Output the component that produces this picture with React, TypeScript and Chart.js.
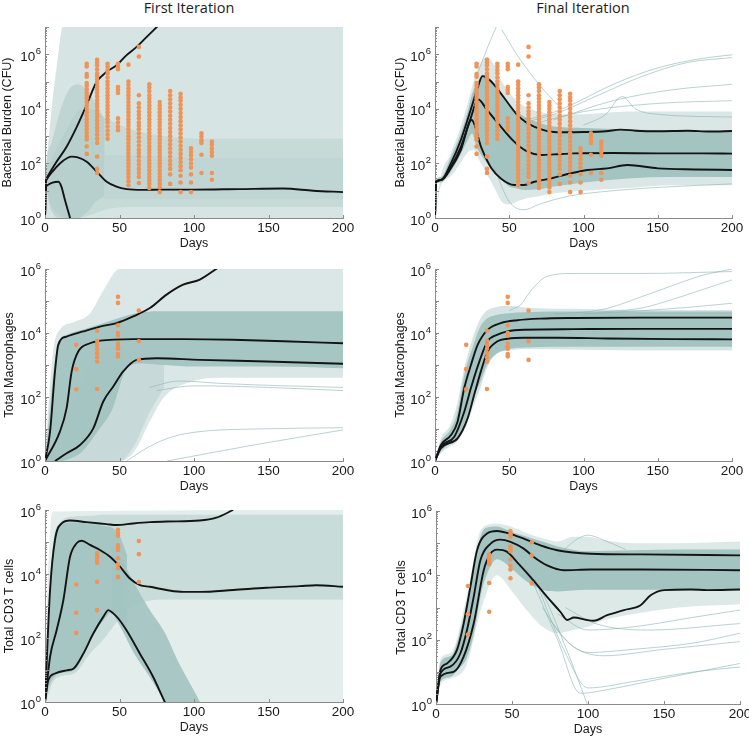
import React, { useEffect, useRef } from "react";
import { Chart, registerables } from "chart.js";
Chart.register(...registerables);
const FONT = "'Liberation Sans', Arial, Helvetica, sans-serif";
Chart.defaults.font.family = FONT;

const cfuDays = [28, 35, 42, 49, 56, 63, 70, 77, 84, 91, 98, 105, 112];
const cfuLog10 = [
  [5.65, 5.55, 5.28, 5.18, 4.95, 4.85, 4.72, 4.6, 4.48, 4.38, 4.25, 4.12, 4.0, 3.88, 3.75, 3.62, 3.5, 3.38, 3.25, 3.12, 3.0, 2.88, 2.62, 2.35],
  [5.8, 5.7, 5.6, 5.45, 5.3, 5.2, 5.08, 4.95, 4.82, 4.7, 4.58, 4.45, 4.32, 4.2, 4.08, 3.95, 3.82, 3.7, 3.58, 3.45, 3.32, 3.2, 3.05, 2.9, 2.75, 2.25, 1.8, 1.65],
  [5.65, 5.55, 5.42, 5.3, 5.15, 5.0, 4.88, 4.75, 4.62, 4.5, 4.38, 4.25, 4.12, 4.0, 3.88, 3.75, 3.62, 3.5, 3.35, 3.2, 3.05, 2.9],
  [5.65, 5.55, 5.45, 4.8, 4.7, 4.58, 3.65, 3.5, 3.35, 3.22],
  [5.62, 5.0, 4.88, 4.75, 4.62, 4.5, 4.38, 4.25, 4.12, 4.0, 3.88, 3.75, 3.62, 3.5, 3.38, 3.25, 3.12, 3.0, 2.88, 2.75, 2.62, 2.5, 2.38, 2.25, 2.12, 2.0, 1.88, 1.75, 1.62, 1.5, 1.35, 1.2],
  [6.27, 5.92, 4.5, 4.2, 4.05, 3.9, 3.78, 3.65, 3.5, 3.38, 3.25, 3.1, 2.95, 2.8, 2.65, 2.5, 2.38, 2.25, 2.1, 1.95, 1.8, 1.65, 1.5, 1.28],
  [4.9, 4.78, 4.65, 4.5, 4.38, 4.25, 4.12, 4.0, 3.88, 3.75, 3.62, 3.5, 3.38, 3.25, 3.12, 3.0, 2.88, 2.75, 2.62, 2.5, 2.38, 2.25, 2.12, 2.0, 1.88, 1.75, 1.62, 1.5, 1.38, 1.25, 1.1],
  [4.25, 4.12, 4.0, 3.88, 3.75, 3.62, 3.5, 3.38, 3.25, 3.12, 3.0, 2.88, 2.75, 2.62, 2.5, 2.38, 2.25, 2.12, 2.0, 1.88, 1.75, 1.62, 1.5, 1.38, 1.25, 1.12, 0.95],
  [4.65, 4.5, 4.35, 4.2, 4.05, 3.9, 3.75, 3.6, 3.45, 3.3, 3.15, 3.0, 2.85, 2.7, 2.55, 2.4, 2.25, 2.1, 1.95, 1.8, 1.6, 1.25],
  [4.55, 4.42, 4.3, 4.15, 4.0, 3.85, 3.7, 3.55, 3.4, 3.25, 3.1, 2.95, 2.8, 2.65, 2.5, 2.35, 2.2, 2.05, 1.9, 1.75, 1.55, 1.3, 0.95],
  [2.55, 2.42, 2.3, 2.15, 2.0, 1.85, 1.6, 1.3, 0.95],
  [3.1, 2.98, 2.85, 2.75, 2.32, 1.65],
  [2.8, 2.68, 2.55, 2.42, 2.28, 1.65, 1.4],
];
const macDays = [21, 35, 49, 63];
const macLog10 = [
  [3.63, 2.87, 2.24],
  [4.07, 3.76, 3.63, 3.51, 3.37, 3.24, 3.11, 2.25],
  [5.13, 4.94, 4.24, 4.0, 3.92, 3.67, 3.58, 3.51, 3.34, 3.27],
  [4.7, 3.74, 3.16],
];
const cd3Days = [21, 35, 49, 63];
const cd3Log10 = [
  [3.67, 2.79, 2.16],
  [4.65, 4.57, 4.5, 4.42, 4.35, 3.76, 2.87],
  [5.38, 5.28, 5.2, 4.9, 4.83, 4.75, 4.49, 4.3, 4.18, 3.91],
  [5.03, 4.62, 3.75],
];

// ---------------- percentile curves (log10) ----------------
const bactFirstUpDays = [0, 0.6, 1, 7, 14.5, 21, 28, 34.7, 41.4, 48.1, 54.8, 61.5, 68.3, 76];
const bactFirstUpLog = [0, 1.35, 1.45, 2.0, 2.61, 3.3, 4.15, 4.99, 5.36, 5.6, 5.97, 6.27, 6.64, 7.05];
const bactFirstMidDays = [0, 0.6, 1, 5, 10, 15, 18, 22, 28, 34.7, 41.4, 48, 54.8, 65, 80, 100, 130, 160, 180, 200];
const bactFirstMidLog = [0, 1.3, 1.4, 1.7, 2.0, 2.2, 2.25, 2.22, 2.06, 1.7, 1.33, 1.15, 1.06, 1.03, 1.04, 1.04, 1.06, 1.08, 1.0, 0.95];
const bactFirstLowDays = [0, 0.6, 1.5, 5, 9, 11, 13.4, 15, 16.8, 18];
const bactFirstLowLog = [0, 1.1, 1.2, 1.3, 1.33, 1.15, 0.66, 0.35, 0, -0.3];

const bactFinalUpDays = [0, 0.7, 4, 10.7, 17.4, 24, 28.6, 32, 37, 44.3, 50, 55.5, 61, 66.7, 72, 78, 89, 100, 115, 125, 135, 150, 170, 185, 200];
const bactFinalUpLog = [0, 1.33, 1.39, 2.0, 2.86, 3.96, 4.75, 5.2, 5.05, 4.57, 4.15, 3.77, 3.52, 3.35, 3.24, 3.16, 3.14, 3.15, 3.18, 3.24, 3.2, 3.18, 3.2, 3.17, 3.19];
const bactFinalMidDays = [0, 0.7, 4, 10.7, 17.4, 24, 29, 35, 44.3, 53.3, 62.3, 71.3, 80, 93.7, 120, 150, 180, 200];
const bactFinalMidLog = [0, 1.33, 1.39, 1.88, 2.61, 3.65, 4.35, 3.96, 3.35, 2.8, 2.43, 2.31, 2.33, 2.37, 2.38, 2.37, 2.37, 2.36];
const bactFinalLowDays = [0, 0.7, 4, 10.7, 17.4, 24.6, 31.4, 38, 44.3, 53.3, 60, 67, 78, 91.5, 102.7, 116, 129.6, 150, 175, 200];
const bactFinalLowLog = [0, 1.33, 1.39, 1.82, 2.49, 3.59, 2.55, 1.82, 1.45, 1.21, 1.21, 1.33, 1.45, 1.64, 1.76, 1.82, 1.94, 1.82, 1.78, 1.76];

const macFirstUpDays = [0, 3.4, 6.7, 8.9, 14.5, 25.7, 36.9, 48, 59.2, 70.4, 81.6, 92.7, 103.9, 115.5];
const macFirstUpLog = [0, 0.92, 2.8, 3.63, 3.89, 4.05, 4.2, 4.31, 4.52, 4.78, 5.2, 5.51, 5.67, 6.02];
const macFirstMidDays = [0, 10, 14.5, 17.9, 22.3, 30.2, 36.9, 59, 92.7, 126, 160, 200];
const macFirstMidLog = [0, 0.92, 1.65, 2.8, 3.42, 3.68, 3.76, 3.81, 3.81, 3.79, 3.74, 3.68];
const macFirstLowDays = [6.7, 14.5, 23.5, 32.4, 39.1, 45.8, 52.5, 61.5, 74.9, 103.9, 148.6, 200];
const macFirstLowLog = [0, 0.24, 0.5, 1.02, 1.86, 2.33, 2.8, 3.16, 3.21, 3.16, 3.11, 3.04];

const macFinalUpDays = [0, 4, 10.8, 15.2, 19.7, 24.2, 28.7, 35.4, 44.3, 55.5, 71.2, 93.6, 138, 200];
const macFinalUpLog = [0, 0.5, 0.81, 1.23, 2.28, 3.0, 3.63, 4.1, 4.31, 4.4, 4.45, 4.47, 4.48, 4.48];
const macFinalMidDays = [0, 4, 13, 19.7, 24.2, 28.7, 35.4, 42.1, 48.8, 60, 93.6, 138, 200];
const macFinalMidLog = [0, 0.45, 0.76, 1.54, 2.28, 2.95, 3.74, 3.95, 4.05, 4.1, 4.12, 4.13, 4.13];
const macFinalLowDays = [0, 4, 15.2, 22, 26.4, 30.9, 35.4, 42.1, 48.8, 60, 82.4, 116, 160.8, 200];
const macFinalLowLog = [0, 0.4, 0.71, 1.34, 2.07, 2.8, 3.42, 3.74, 3.82, 3.85, 3.85, 3.83, 3.81, 3.8];

const cd3FirstUpDays = [0, 3.4, 6.7, 11.2, 16.8, 27.9, 41.3, 48, 59.2, 70.4, 81.6, 103.9, 115, 126.3];
const cd3FirstUpLog = [0, 3.5, 5.06, 5.58, 5.67, 5.62, 5.56, 5.53, 5.58, 5.62, 5.64, 5.67, 5.76, 6.0];
const cd3FirstMidDays = [0, 3.4, 7.8, 12.3, 16.8, 21.2, 24.6, 30.2, 36.9, 43.6, 50.3, 57, 63.7, 70.4, 81.6, 92.7, 103.9, 126.3, 148.6, 170.9, 182, 200];
const cd3FirstMidLog = [0, 1.41, 2.24, 3.18, 4.54, 4.96, 5.04, 4.91, 4.75, 4.54, 4.23, 3.86, 3.65, 3.6, 3.5, 3.44, 3.44, 3.5, 3.57, 3.62, 3.65, 3.6];
const cd3FirstLowDays = [0, 2.2, 6.7, 14.5, 19, 25.7, 32.4, 39.1, 42.5, 45.8, 49.2, 54.7, 63.7, 72.6, 80.4, 82];
const cd3FirstLowLog = [0, 0.68, 0.89, 0.99, 1.04, 1.51, 2.14, 2.66, 2.87, 2.77, 2.61, 2.24, 1.51, 0.78, 0, -0.15];

const cd3FinalUpDays = [0, 2.9, 7.2, 13.8, 18.2, 22.6, 27, 33.6, 40.2, 46.8, 57.7, 68.7, 79.7, 101.6, 134.6, 200];
const cd3FinalUpLog = [0, 1.05, 1.26, 1.68, 2.5, 3.64, 4.78, 5.3, 5.38, 5.32, 5.14, 4.93, 4.78, 4.67, 4.65, 4.62];
const cd3FinalMidDays = [0, 2.9, 9.4, 16, 20.4, 24.8, 29.2, 35.8, 42.4, 49, 57.7, 64.3, 73.1, 84.1, 101.6, 134.6, 200];
const cd3FinalMidLog = [0, 0.95, 1.16, 1.57, 2.3, 3.33, 4.47, 4.98, 5.11, 5.04, 4.83, 4.57, 4.31, 4.16, 4.18, 4.18, 4.16];
const cd3FinalLowDays = [0, 2.9, 11.6, 18.2, 24.8, 31.4, 35.8, 40.2, 46.8, 53.3, 62.1, 73.1, 81.9, 86.3, 90.7, 99.5, 103.8, 112.6, 123.6, 134.6, 141.2, 150, 167.5, 178.5, 200];
const cd3FinalLowLog = [0, 0.85, 1.0, 1.47, 2.5, 4.16, 4.67, 4.8, 4.73, 4.41, 3.95, 3.33, 2.86, 2.61, 2.69, 2.61, 2.59, 2.76, 2.92, 3.07, 3.38, 3.54, 3.56, 3.54, 3.56];

// ---------------- simulation cloud envelopes (log10) ----------------
const tlLightDays = [0, 0.5, 2, 5, 8, 12, 200];
const tlLightHi = [0, 1.6, 2.6, 4.3, 5.6, 7, 7];
const tlLightLo = [0, 0, 0, 0, 0, 0, 0];
const tlFanDays = [0, 0.5, 4, 10, 16, 22, 28, 34, 40];
const tlFanHi = [0, 1.5, 2.7, 3.9, 4.7, 4.9, 4.7, 4.2, 3.6];
const tlFanLo = [0, 1.0, 0.3, 0, 0, 0, 0.2, 0.6, 0.8];
const tlMedDays = [0, 0.5, 3, 8, 15, 22, 30, 40, 55, 80, 120, 200];
const tlMedHi = [0, 1.45, 2.0, 2.6, 3.3, 3.9, 4.0, 3.7, 3.3, 3.0, 2.9, 2.9];
const tlMedLo = [0, 1.2, 0.6, 0.2, 0, 0, 0.1, 0.3, 0.4, 0.4, 0.4, 0.4];
const tlDenseDays = [40, 60, 90, 130, 200];
const tlDenseHi = [2.3, 2.3, 2.2, 2.2, 2.2];
const tlDenseLo = [0.7, 0.7, 0.7, 0.7, 0.7];

const trHaloDays = [0, 4, 10, 17, 22, 26, 30, 35, 40, 45, 50, 55, 60, 70, 80, 100, 130, 160, 200];
const trHaloHi = [0, 1.55, 2.3, 3.3, 4.2, 5.0, 5.6, 5.9, 5.6, 5.0, 4.6, 4.3, 4.1, 3.9, 3.8, 3.8, 3.9, 3.9, 3.9];
const trHaloLo = [0, 1.2, 1.5, 2.0, 2.4, 2.5, 2.1, 1.6, 1.1, 0.6, 0.5, 0.6, 0.7, 0.8, 0.9, 1.0, 1.1, 1.2, 1.2];
const trCoreDays = [0, 0.7, 4, 10, 17, 22, 25, 28, 32, 36, 40, 45, 50, 55, 60, 70, 80, 100, 130, 160, 200];
const trCoreHi = [0, 1.4, 1.5, 2.15, 3.05, 3.9, 4.55, 4.9, 5.25, 5.15, 4.8, 4.45, 4.1, 3.9, 3.72, 3.5, 3.35, 3.3, 3.25, 3.2, 3.2];
const trCoreLo = [0, 1.25, 1.3, 1.65, 2.3, 2.85, 3.1, 2.6, 2.24, 1.95, 1.63, 1.4, 1.15, 1.08, 1.03, 1.05, 1.15, 1.3, 1.45, 1.5, 1.5];

const mlLightDays = [0, 3, 6, 10, 20, 30, 40, 50, 60, 70, 80, 100, 120, 150, 200];
const mlLightHi = [0, 2.2, 3.6, 4.1, 4.35, 4.6, 5.4, 6, 6, 6, 6, 6, 6, 6, 6];
const mlLightLo = [0, 0, 0, 0, 0, 0, 0, 0, 0.3, 1.2, 2.0, 2.5, 2.6, 2.6, 2.6];
const mlMedDays = [0, 10, 20, 30, 40, 50, 60, 70, 80];
const mlMedHi = [0, 1.0, 2.0, 3.0, 3.5, 3.5, 3.4, 3.2, 3.0];
const mlMedLo = [0, 0, 0, 0, 0, 0, 0.5, 1.5, 2.3];
const mlCoreDays = [0, 3, 6, 9, 15, 25, 35, 45, 55, 65, 80, 100, 150, 200];
const mlCoreHi = [0, 1.5, 2.9, 3.7, 3.95, 4.1, 4.25, 4.4, 4.55, 4.65, 4.68, 4.68, 4.68, 4.68];
const mlCoreLo = [0, 0, 0, 0, 0.05, 0.3, 0.9, 1.6, 2.9, 3.05, 3.0, 2.95, 2.95, 2.9];

const mrHaloDays = [0, 4, 10, 15, 20, 25, 30, 35, 40, 50, 60, 100, 150, 200];
const mrHaloHi = [0, 0.7, 1.1, 1.8, 2.95, 3.8, 4.4, 4.7, 4.8, 4.85, 4.8, 4.75, 4.72, 4.72];
const mrHaloLo = [0, 0.25, 0.45, 0.6, 1.0, 1.6, 2.2, 2.9, 3.3, 3.45, 3.5, 3.48, 3.45, 3.45];
const mrCoreDays = [0, 4, 10, 15, 20, 25, 30, 35, 40, 50, 60, 100, 150, 200];
const mrCoreHi = [0, 0.6, 0.95, 1.5, 2.75, 3.5, 4.15, 4.45, 4.55, 4.62, 4.65, 4.67, 4.67, 4.67];
const mrCoreLo = [0, 0.3, 0.55, 0.7, 1.2, 1.9, 2.4, 3.0, 3.3, 3.5, 3.55, 3.57, 3.57, 3.57];

const blLightDays = [0, 1, 3, 5, 200];
const blLightHi = [0, 2.5, 5.0, 5.95, 6];
const blLightLo = [0, 0, 0, 0, 0];
const blMedDays = [0, 2, 5, 10, 20, 30, 40, 50, 60, 80, 200];
const blMedHi = [0, 2.5, 4.8, 5.6, 5.8, 5.82, 5.85, 5.85, 5.85, 5.85, 5.85];
const blMedLo = [0, 0.2, 0.6, 0.8, 0.9, 1.5, 2.0, 2.6, 3.0, 3.2, 3.2];
const blFanDays = [0, 2, 5, 10, 20, 30, 40, 45, 50, 55];
const blFanHi = [0, 2.4, 4.7, 5.5, 5.62, 5.58, 5.5, 5.45, 5.2, 4.6];
const blFanLo = [0, 0.4, 0.7, 0.9, 1.0, 1.9, 2.6, 2.8, 2.5, 2.2];
const blBundleDays = [45, 50, 60, 70, 80, 90, 100, 104];
const blBundleHi = [5.0, 4.6, 3.7, 2.9, 2.2, 1.2, 0.35, 0];
const blBundleLo = [2.8, 2.4, 1.5, 0.8, 0.05, -0.5, -0.5, -0.5];

const brHaloDays = [0, 3, 10, 20, 30, 40, 50, 60, 70, 80, 90, 100, 110, 130, 160, 200];
const brHaloHi = [0, 1.4, 1.6, 3.3, 5.45, 5.6, 5.5, 5.3, 5.15, 5.05, 5.2, 5.2, 5.1, 5.0, 5.0, 5.05];
const brHaloLo = [0, 0.6, 0.8, 1.2, 3.0, 4.0, 3.5, 2.9, 2.4, 2.2, 2.3, 2.4, 2.6, 2.8, 3.0, 3.1];
const brCoreDays = [0, 3, 10, 15, 20, 25, 30, 35, 40, 45, 50, 60, 70, 80, 100, 130, 160, 200];
const brCoreHi = [0, 1.3, 1.5, 2.1, 3.1, 4.3, 5.3, 5.5, 5.52, 5.45, 5.35, 5.2, 5.05, 4.9, 4.75, 4.78, 4.8, 4.8];
const brCoreLo = [0, 0.7, 0.85, 1.1, 1.4, 2.2, 3.5, 4.2, 4.5, 4.4, 4.2, 3.8, 3.55, 3.5, 3.55, 3.55, 3.55, 3.55];

// individual outlying trajectories (log10)
const trStrays: [number[], number[]][] = [
  [[55, 70, 90, 120, 150, 180, 200], [3.6, 3.7, 4.1, 4.9, 5.5, 5.85, 5.98]],
  [[60, 80, 110, 140, 170, 200], [3.5, 3.8, 4.5, 5.2, 5.7, 5.88]],
  [[80, 120, 160, 200], [3.6, 4.3, 4.7, 4.9]],
  [[100, 115, 126, 135, 150, 200], [3.4, 3.8, 4.45, 4.0, 3.8, 3.7]],
  [[70, 100, 150, 200], [3.5, 3.9, 4.2, 4.3]],
  [[40, 50, 60, 70, 90, 120, 160, 200], [1.8, 0.6, 0.3, 0.5, 0.8, 1.0, 1.15, 1.25]],
  [[45, 55, 70, 85], [6.9, 6.0, 4.9, 4.0]],
  [[28, 35, 42], [5.2, 6.2, 7.1]],
];
const mlStrays: [number[], number[]][] = [
  [[54.7, 70, 85, 104, 140, 200], [0, 0.45, 0.75, 0.92, 1.0, 1.04]],
  [[82, 140, 200], [0, 0.5, 0.97]],
  [[70, 90, 120, 160, 200], [2.3, 2.5, 2.42, 2.35, 2.3]],
  [[75, 100, 150, 200], [2.2, 2.35, 2.3, 2.2]],
];
const mrStrays: [number[], number[]][] = [
  [[50, 53, 57.5, 64, 75, 93, 138, 200], [4.7, 4.77, 4.87, 5.29, 5.76, 5.86, 5.86, 5.92]],
  [[80, 100, 116, 140, 161, 180, 200], [4.6, 4.65, 4.77, 5.15, 5.5, 5.8, 6.0]],
  [[110, 138, 160, 183, 200], [4.65, 4.77, 5.05, 5.4, 5.66]],
  [[100, 140, 170, 200], [4.6, 4.7, 4.8, 4.93]],
];
const brStrays: [number[], number[]][] = [
  [[60, 69, 85, 99.5], [4.0, 3.54, 1.8, 0]],
  [[60, 80, 95, 113, 150, 200], [4.2, 2.0, 0.33, 0.45, 0.8, 1.26]],
  [[65, 85, 100, 130, 170, 200], [3.9, 1.6, 0.5, 0.7, 1.0, 1.15]],
  [[70, 85, 100, 130, 170, 200], [3.0, 2.0, 1.6, 1.7, 1.9, 2.2]],
  [[75, 90, 110, 150, 200], [2.6, 1.8, 1.5, 1.7, 1.94]],
  [[80, 100, 130, 170, 200], [2.8, 2.3, 2.4, 2.7, 2.92]],
  [[85, 105, 140, 200], [3.0, 2.5, 2.3, 2.5]],
  [[80, 92, 100, 110, 125], [4.6, 5.1, 5.25, 5.1, 4.8]],
];

const xTickValues = [0, 50, 100, 150, 200];
const yTickExps = [0, 2, 4, 6];

// ---------------- styling / layout ----------------
const YW = 45, PT = 10, PR = 16, XH = 36;
const tealA = (a: number) => `rgba(163,196,193,${a})`;

type Band = { days: number[]; hi: number[]; lo: number[]; color: string; order: number };
type PanelSpec = {
  left: number; top: number; width: number; height: number; yMaxExp: number;
  yTitle: string; yTitlePad: number; lines: [number[], number[]][]; bands: Band[];
  strays: [number[], number[]][]; dotDays: number[]; dotLogs: number[][];
};

const panels: PanelSpec[] = [
  {
    left: 45, top: 27, width: 298, height: 191, yMaxExp: 7, yTitle: "Bacterial Burden (CFU)", yTitlePad: 0,
    lines: [[bactFirstUpDays, bactFirstUpLog], [bactFirstMidDays, bactFirstMidLog], [bactFirstLowDays, bactFirstLowLog]],
    bands: [
      { days: tlLightDays, hi: tlLightHi, lo: tlLightLo, color: tealA(0.45), order: 8 },
      { days: tlMedDays, hi: tlMedHi, lo: tlMedLo, color: tealA(0.3), order: 7 },
      { days: tlDenseDays, hi: tlDenseHi, lo: tlDenseLo, color: tealA(0.2), order: 6 },
      { days: tlFanDays, hi: tlFanHi, lo: tlFanLo, color: tealA(0.45), order: 5 },
    ],
    strays: [], dotDays: cfuDays, dotLogs: cfuLog10,
  },
  {
    left: 435, top: 27, width: 297, height: 191, yMaxExp: 7, yTitle: "Bacterial Burden (CFU)", yTitlePad: 3,
    lines: [[bactFinalUpDays, bactFinalUpLog], [bactFinalMidDays, bactFinalMidLog], [bactFinalLowDays, bactFinalLowLog]],
    bands: [
      { days: trHaloDays, hi: trHaloHi, lo: trHaloLo, color: tealA(0.4), order: 6 },
      { days: trCoreDays, hi: trCoreHi, lo: trCoreLo, color: tealA(1), order: 4 },
    ],
    strays: trStrays, dotDays: cfuDays, dotLogs: cfuLog10,
  },
  {
    left: 45, top: 269, width: 298, height: 192, yMaxExp: 6, yTitle: "Total Macrophages", yTitlePad: 2,
    lines: [[macFirstUpDays, macFirstUpLog], [macFirstMidDays, macFirstMidLog], [macFirstLowDays, macFirstLowLog]],
    bands: [
      { days: mlLightDays, hi: mlLightHi, lo: mlLightLo, color: tealA(0.4), order: 7 },
      { days: mlMedDays, hi: mlMedHi, lo: mlMedLo, color: tealA(0.35), order: 6 },
      { days: mlCoreDays, hi: mlCoreHi, lo: mlCoreLo, color: tealA(0.95), order: 4 },
    ],
    strays: mlStrays, dotDays: macDays, dotLogs: macLog10,
  },
  {
    left: 435, top: 269, width: 297, height: 192, yMaxExp: 6, yTitle: "Total Macrophages", yTitlePad: 3,
    lines: [[macFinalUpDays, macFinalUpLog], [macFinalMidDays, macFinalMidLog], [macFinalLowDays, macFinalLowLog]],
    bands: [
      { days: mrHaloDays, hi: mrHaloHi, lo: mrHaloLo, color: tealA(0.45), order: 6 },
      { days: mrCoreDays, hi: mrCoreHi, lo: mrCoreLo, color: tealA(1), order: 4 },
    ],
    strays: mrStrays, dotDays: macDays, dotLogs: macLog10,
  },
  {
    left: 45, top: 510, width: 298, height: 192, yMaxExp: 6, yTitle: "Total CD3 T cells", yTitlePad: 2,
    lines: [[cd3FirstUpDays, cd3FirstUpLog], [cd3FirstMidDays, cd3FirstMidLog], [cd3FirstLowDays, cd3FirstLowLog]],
    bands: [
      { days: blLightDays, hi: blLightHi, lo: blLightLo, color: tealA(0.3), order: 7 },
      { days: blMedDays, hi: blMedHi, lo: blMedLo, color: tealA(0.42), order: 6 },
      { days: blFanDays, hi: blFanHi, lo: blFanLo, color: tealA(0.9), order: 4 },
      { days: blBundleDays, hi: blBundleHi, lo: blBundleLo, color: tealA(0.9), order: 4 },
    ],
    strays: [], dotDays: cd3Days, dotLogs: cd3Log10,
  },
  {
    left: 436, top: 511, width: 304, height: 193, yMaxExp: 6, yTitle: "Total CD3 T cells", yTitlePad: 3,
    lines: [[cd3FinalUpDays, cd3FinalUpLog], [cd3FinalMidDays, cd3FinalMidLog], [cd3FinalLowDays, cd3FinalLowLog]],
    bands: [
      { days: brHaloDays, hi: brHaloHi, lo: brHaloLo, color: tealA(0.38), order: 6 },
      { days: brCoreDays, hi: brCoreHi, lo: brCoreLo, color: tealA(1), order: 4 },
    ],
    strays: brStrays, dotDays: cd3Days, dotLogs: cd3Log10,
  },
];

const pts = (days: number[], logs: number[]) => days.map((d, i) => ({ x: d, y: Math.pow(10, logs[i]) }));
const dotPts = (days: number[], cols: number[][]) => {
  const out: { x: number; y: number }[] = [];
  days.forEach((d, i) => cols[i].forEach((v) => out.push({ x: d, y: Math.pow(10, v) })));
  return out;
};

// inward minor/major ticks and "10^n" labels with a raised exponent
const axisDecor = {
  id: "axisDecor",
  afterDraw(chart: any) {
    const { ctx, chartArea: a, scales } = chart;
    const x = scales.x, y = scales.y;
    ctx.save();
    ctx.strokeStyle = "#8a8a8a";
    ctx.lineWidth = 1;
    ctx.beginPath();
    const maxE = Math.round(Math.log10(y.max));
    for (let e = 0; e <= maxE; e++) {
      for (let k = 1; k <= 9; k++) {
        const v = k * Math.pow(10, e);
        if (v > y.max * 1.0001) break;
        const py = Math.round(y.getPixelForValue(v)) + 0.5;
        const len = k === 1 ? 4 : 2;
        ctx.moveTo(a.left, py);
        ctx.lineTo(a.left + len, py);
      }
    }
    xTickValues.forEach((v) => {
      const px = Math.round(x.getPixelForValue(v)) + 0.5;
      ctx.moveTo(px, a.bottom);
      ctx.lineTo(px, a.bottom - 3);
    });
    ctx.stroke();

    ctx.fillStyle = "#1a1a1a";
    ctx.textBaseline = "alphabetic";
    ctx.textAlign = "left";
    yTickExps.forEach((e) => {
      const py = y.getPixelForValue(Math.pow(10, e));
      const base = "10";
      const sup = String(e);
      ctx.font = `13.5px ${FONT}`;
      const w1 = ctx.measureText(base).width;
      ctx.font = `9.5px ${FONT}`;
      const w2 = ctx.measureText(sup).width;
      const right = a.left - 4;
      ctx.font = `13.5px ${FONT}`;
      ctx.fillText(base, right - w2 - w1 - 0.5, py + 6.5);
      ctx.font = `9.5px ${FONT}`;
      ctx.fillText(sup, right - w2, py - 0.5);
    });
    ctx.restore();
  },
};

function buildConfig(p: PanelSpec): any {
  const datasets: any[] = [];
  const common = { pointRadius: 0, pointHoverRadius: 0, cubicInterpolationMode: "monotone", tension: 0.4 };
  datasets.push({
    type: "line", data: dotPts(p.dotDays, p.dotLogs), showLine: false, pointRadius: 2.3, pointHoverRadius: 2.3,
    pointBackgroundColor: "#ef9459", pointBorderWidth: 0, backgroundColor: "#ef9459", borderColor: "#ef9459", order: 0,
  });
  p.lines.forEach(([d, l]) => {
    datasets.push({ ...common, type: "line", data: pts(d, l), borderColor: "#141414", borderWidth: 1.9, fill: false, order: 1 });
  });
  p.strays.forEach(([d, l]) => {
    datasets.push({ ...common, type: "line", data: pts(d, l), borderColor: "rgba(140,180,177,0.75)", borderWidth: 0.8, fill: false, order: 3 });
  });
  p.bands.forEach((b) => {
    datasets.push({ ...common, type: "line", data: pts(b.days, b.lo), borderWidth: 0, borderColor: "rgba(0,0,0,0)", fill: false, order: b.order });
    datasets.push({ ...common, type: "line", data: pts(b.days, b.hi), borderWidth: 0, borderColor: "rgba(0,0,0,0)", backgroundColor: b.color, fill: "-1", order: b.order });
  });

  return {
    type: "line",
    data: { datasets },
    options: {
      responsive: false,
      animation: false,
      events: [],
      layout: { padding: { left: 0, top: PT, right: PR, bottom: 0 } },
      plugins: { legend: { display: false }, tooltip: { enabled: false } },
      scales: {
        x: {
          type: "linear", min: 0, max: 200,
          afterBuildTicks: (s: any) => { s.ticks = xTickValues.map((v) => ({ value: v })); },
          afterFit: (s: any) => { s.height = XH; },
          ticks: { font: { size: 13.5 }, color: "#1a1a1a", padding: 2, maxRotation: 0 },
          grid: { display: true, drawOnChartArea: false, drawTicks: false, color: "rgba(0,0,0,0)" },
          border: { display: true, color: "#8a8a8a", width: 1 },
          title: { display: true, text: "Days", font: { size: 12.5 }, color: "#1a1a1a", padding: { top: 0, bottom: 3 } },
        },
        y: {
          type: "logarithmic", min: 1, max: Math.pow(10, p.yMaxExp),
          afterBuildTicks: (s: any) => { s.ticks = yTickExps.map((e) => ({ value: Math.pow(10, e) })); },
          afterFit: (s: any) => { s.width = YW; },
          ticks: { display: false },
          grid: { display: true, drawOnChartArea: false, drawTicks: false, color: "rgba(0,0,0,0)" },
          border: { display: true, color: "#8a8a8a", width: 1 },
          title: { display: true, text: p.yTitle, font: { size: 12.5 }, color: "#1a1a1a", padding: { top: p.yTitlePad, bottom: 0 } },
        },
      },
    },
    plugins: [axisDecor],
  };
}

function Panel({ p }: { p: PanelSpec }) {
  const ref = useRef<HTMLCanvasElement>(null);
  const w = YW + p.width + PR;
  const h = PT + p.height + XH;
  useEffect(() => {
    const chart = new Chart(ref.current as HTMLCanvasElement, buildConfig(p));
    return () => chart.destroy();
  }, [p]);
  return (
    <canvas
      ref={ref}
      width={w}
      height={h}
      style={{ position: "absolute", left: p.left - YW, top: p.top - PT, width: w, height: h }}
    />
  );
}

const titleStyle: React.CSSProperties = {
  position: "absolute", top: 0, width: 200, textAlign: "center", fontFamily: "'Open Sans', sans-serif",
  fontSize: 14.5, lineHeight: "16px", color: "#1e1e1e",
};

export default function App() {
  return (
    <div style={{ position: "absolute", left: 0, top: 0, width: 749, height: 739, overflow: "hidden", background: "#fff" }}>
      <div style={{ ...titleStyle, left: 189 - 100 }}>First Iteration</div>
      <div style={{ ...titleStyle, left: 583 - 100 }}>Final Iteration</div>
      {panels.map((p, i) => (
        <Panel key={i} p={p} />
      ))}
    </div>
  );
}
